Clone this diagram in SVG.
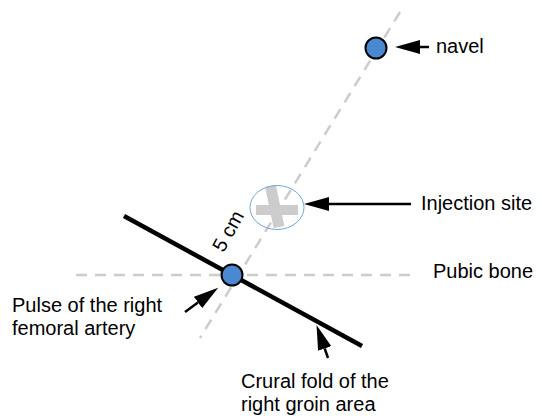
<svg xmlns="http://www.w3.org/2000/svg" width="542" height="416" viewBox="0 0 542 416">
<style>
.guide{stroke:#cccccc;stroke-width:2.5;stroke-dasharray:11 8;fill:none}
.fold{stroke:#000;stroke-width:4.5;fill:none;stroke-linecap:butt}
.pt{fill:#4a88d2;stroke:#000;stroke-width:2}
.arr{stroke:#000;stroke-width:2.5;fill:none;marker-end:url(#ah)}
.lbl{font-family:"Liberation Sans",Arial,sans-serif;font-size:20px;fill:#000}
</style>
<defs>
<marker id="ah" markerUnits="userSpaceOnUse" markerWidth="26" markerHeight="14" refX="0" refY="7" orient="auto">
<path d="M0,0 L25,7 L0,14 z" fill="#000"/>
</marker>
</defs>
<g id="guides">
<line class="guide" x1="400" y1="12" x2="200" y2="338"/>
<line class="guide" x1="76" y1="275" x2="416" y2="275"/>
</g>
<g id="injection-site">
<rect x="256" y="205" width="42" height="10" fill="#cccccc"/>
<line x1="270.5" y1="186" x2="279" y2="227" stroke="#cccccc" stroke-width="11"/>
<ellipse cx="277" cy="207.5" rx="27" ry="22" fill="none" stroke="#6fa6e0" stroke-width="1"/>
</g>
<g id="crural-fold">
<line class="fold" x1="124" y1="216" x2="362" y2="346"/>
</g>
<g id="navel">
<circle class="pt" cx="376" cy="48" r="10.5"/>
</g>
<g id="femoral-artery">
<circle class="pt" cx="232" cy="275" r="10.5"/>
</g>
<g id="connectors">
<line class="arr" x1="429" y1="47" x2="420" y2="47"/>
<line class="arr" x1="411" y1="204" x2="329" y2="204"/>
<line class="arr" x1="185" y1="312" x2="198" y2="302.5"/>
<line class="arr" x1="328" y1="358" x2="324.7" y2="348.5"/>
</g>
<g id="labels">
<text class="lbl" x="436" y="53">navel</text>
<text class="lbl" x="421" y="210">Injection site</text>
<text class="lbl" x="433" y="278">Pubic bone</text>
<text class="lbl" x="12" y="312">Pulse of the right</text>
<text class="lbl" x="12" y="335">femoral artery</text>
<text class="lbl" x="241" y="388">Crural fold of the</text>
<text class="lbl" x="241" y="411">right groin area</text>
<text class="lbl" text-anchor="middle" transform="translate(228,231) rotate(-61)" y="7">5 cm</text>
</g>
</svg>
